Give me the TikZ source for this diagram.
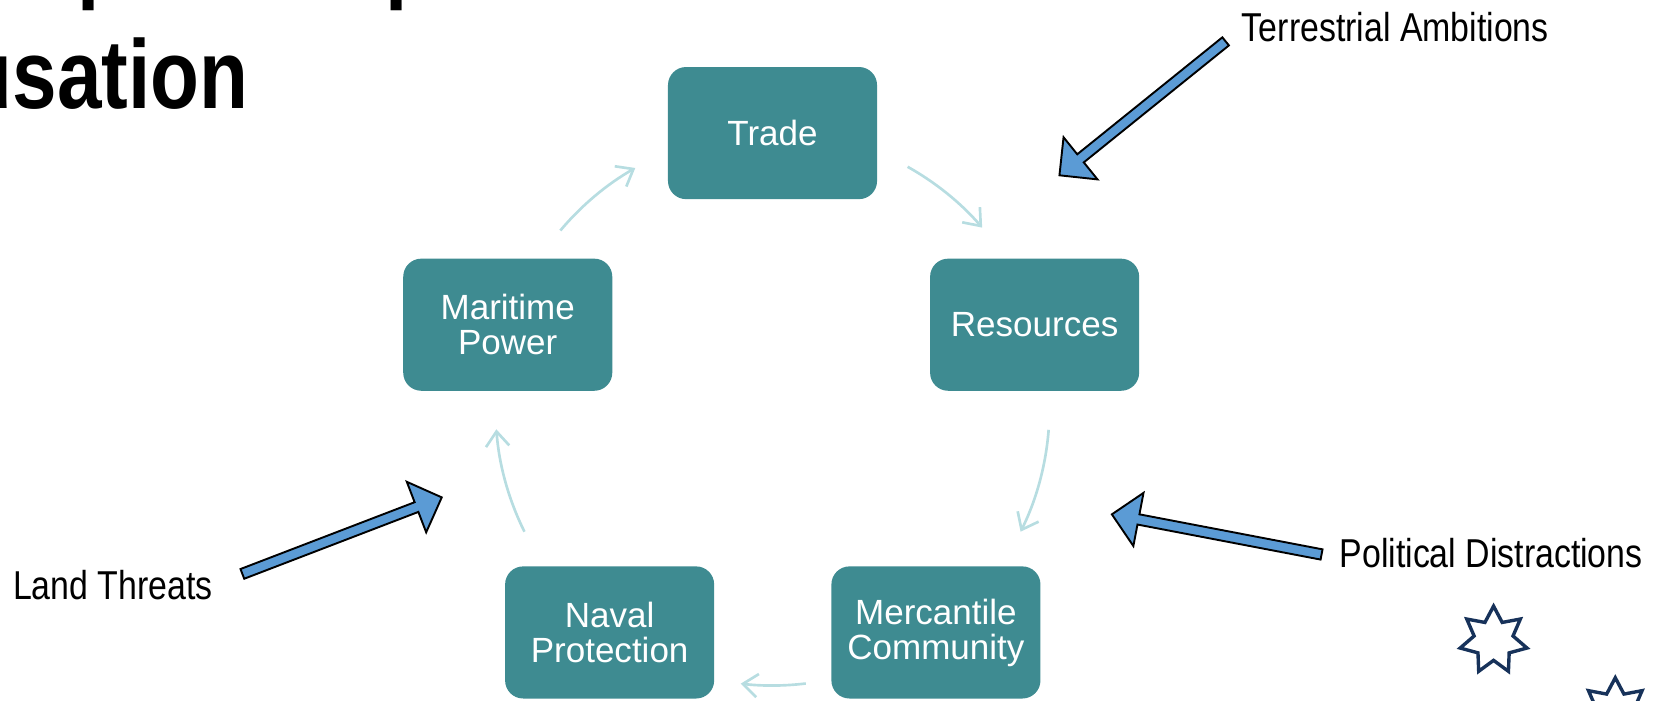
\documentclass[tikz,border=0pt]{standalone}
\usepackage{fontspec}
\setmainfont{Liberation Sans}
\newfontfamily\narrowfont{Liberation Sans}[FakeStretch=0.84]
\newfontfamily\titlefont{Liberation Sans}[FakeStretch=0.82]
\usetikzlibrary{arrows.meta,calc}
\definecolor{boxteal}{RGB}{62,139,145}
\definecolor{cyclelight}{RGB}{183,221,225}
\definecolor{blkblue}{RGB}{91,155,213}
\definecolor{starnavy}{RGB}{23,50,90}
\newcommand\blkarrow[2]{%
  \path ($(#2)!12.75pt!(#1)$) coordinate (nk);
  \filldraw[blk] ($(#1)!2.45pt!90:(#2)$) -- ($(nk)!2.45pt!-90:(#1)$) -- ($(nk)!12.75pt!-90:(#1)$) -- (#2)
     -- ($(nk)!12.75pt!90:(#1)$) -- ($(nk)!2.45pt!90:(#1)$) -- ($(#1)!2.45pt!-90:(#2)$) -- cycle;}
\newcommand\sevenstar[2]{%
  \draw[starline] plot[samples at={0,...,13}, variable=\k]
   ({#1+ifthenelse(mod(\k,2)==0,32.3,18.8)*cos(90+\k*180/7)},{#2+ifthenelse(mod(\k,2)==0,32.3,18.8)*sin(90+\k*180/7)}) -- cycle;}
\begin{document}
\begin{tikzpicture}[x=0.5pt,y=0.5pt,
  box/.style={rectangle, rounded corners=8.5pt, fill=boxteal, text=white, minimum width=98.5pt,
    minimum height=62.25pt, align=center, inner sep=0, font=\fontsize{16.5}{16.5}\selectfont},
  cyc/.style={draw=cyclelight, line width=1.25pt, -{Straight Barb[length=7pt,width=11pt]}},
  blk/.style={fill=blkblue, draw=black, line width=0.9pt},
  lab/.style={font=\narrowfont\fontsize{19}{22}\selectfont, inner sep=0, anchor=base west},
  ttl/.style={font=\titlefont\bfseries\fontsize{46}{55}\selectfont, inner sep=0, anchor=base west},
  starline/.style={draw=starnavy, line width=1.6pt}]
\useasboundingbox (0,0) rectangle (1570,-660.6);
\clip (0,0) rectangle (1570,-660.6);
% title fragments (cut off by the top edge)
\node[ttl] (frag1) at (73,9.3) {p};
\node[ttl] (frag2) at (363,9.3) {p};
\node[ttl] (title) at (-34.4,-102) {usation};
% boxes
\node[box] (trade) at (728,-125.4) {Trade};
\node[box] (res) at (975,-306) {Resources};
\node[box] (mar) at (478.5,-306) {Maritime\\Power};
\node[box] (nav) at (574.5,-596) {Naval\\Protection};
\node[box] (mer) at (882,-596) {Mercantile\\Community};
% cycle arrows
\coordinate (cc) at (728,-385);
\draw[cyc] ($(cc)+(60.8:130.5pt)$) arc[start angle=60.8, end angle=40.8, radius=130.5pt];
\draw[cyc] ($(cc)+(-4.4:130.5pt)$) arc[start angle=-4.4, end angle=-26.4, radius=130.5pt];
\draw[cyc] ($(cc)+(-83.1:130.5pt)$) arc[start angle=-83.1, end angle=-96.6, radius=130.5pt];
\draw[cyc] ($(cc)+(206.4:130.5pt)$) arc[start angle=206.4, end angle=184.3, radius=130.5pt];
\draw[cyc] ($(cc)+(140:130.5pt)$) arc[start angle=140, end angle=119.7, radius=130.5pt];
% labels
\node[lab] (terr) at (1170,-39.3) {Terrestrial Ambitions};
\node[lab] (pol) at (1262,-534.5) {Political Distractions};
\node[lab] (land) at (12,-564.5) {Land Threats};
% block arrows
\coordinate (terrT) at (1155,-39);
\coordinate (terrH) at (998.4,-165.2);
\coordinate (polT) at (1245.4,-522.5);
\coordinate (polH) at (1047.8,-484.7);
\coordinate (landT) at (228.4,-540.8);
\coordinate (landH) at (416.3,-468.7);
\blkarrow{terrT}{terrH}
\blkarrow{polT}{polH}
\blkarrow{landT}{landH}
% stars
\sevenstar{1407.5}{-603.5}
\sevenstar{1522.2}{-671}
\end{tikzpicture}
\end{document}
